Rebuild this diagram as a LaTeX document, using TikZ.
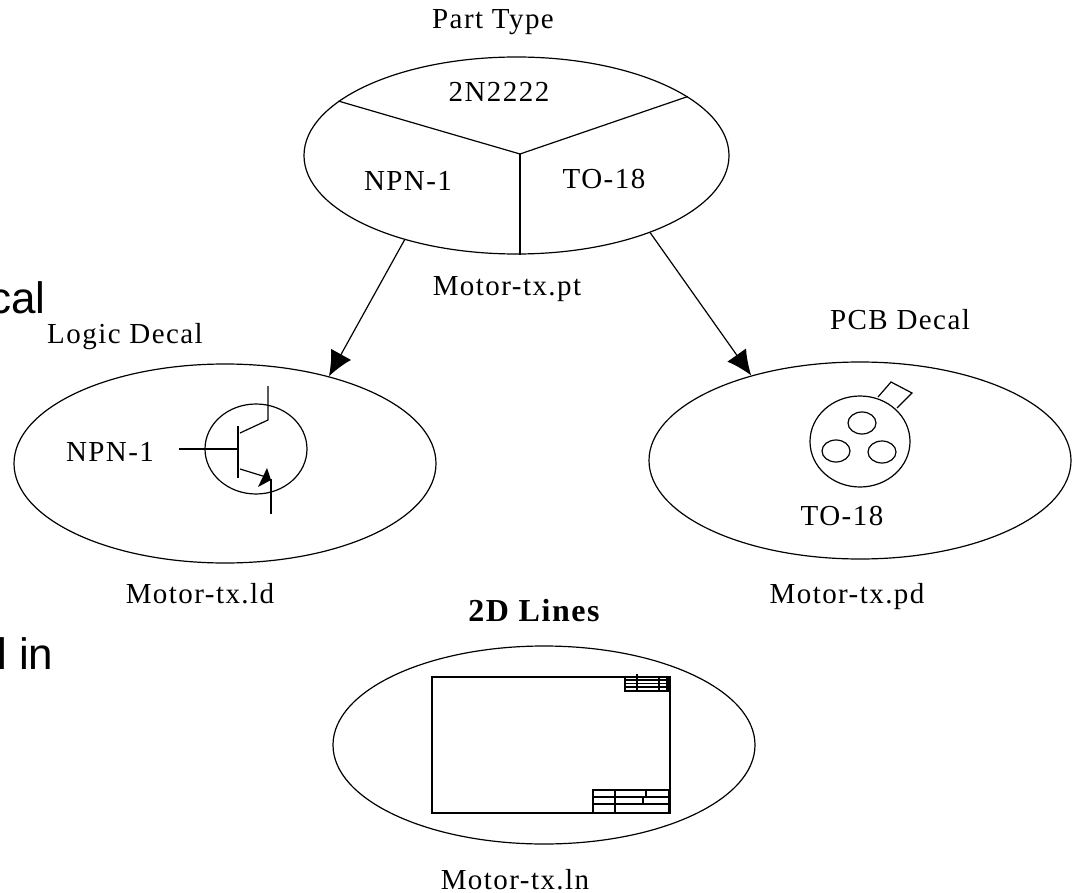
\documentclass[tikz,border=0pt]{standalone}
\usepackage{fontspec}
\setmainfont{Liberation Serif}
\newfontfamily\labelfont[LetterSpace=5]{Liberation Serif}
\newfontfamily\slidefont{Liberation Sans}
\usetikzlibrary{shapes.geometric,arrows.meta}
\tikzset{
  bubble/.style={draw, ellipse, inner sep=0pt},
  caption/.style={inner sep=0pt, anchor=base, font=\fontsize{29}{32}\labelfont},
  slidetext/.style={inner sep=0pt, anchor=base east, font=\fontsize{44}{50}\slidefont},
  bigarrow/.style={-{Latex[length=25pt, width=23pt]}},
}
\begin{document}
\begin{tikzpicture}[x=1pt, y=-1pt, line width=1.2pt]
\useasboundingbox (0,0) rectangle (1073,893);
% slide text behind the figure
\node[slidetext] (slidecal) at (46,313) {cal};
\node[slidetext] (slidein) at (54,669) {l in};
% part type
\node[bubble, minimum width=425, minimum height=197] (parttype) at (516.5,155.5) {};
\coordinate (hub) at (520,154);
\draw (hub) -- (parttype.163.2);
\draw (hub) -- (parttype.19.4);
\draw[line width=1.5pt] (hub) -- (hub |- parttype.south);
\node[caption] (ptlabel) at (493,29) {Part Type};
\node[caption] (ptname) at (499,102) {2N2222};
\node[caption] (ptlogic) at (408,191) {NPN-1};
\node[caption] (ptpcb) at (604,189) {TO-18};
\node[caption] (ptfile) at (507,295) {Motor-tx.pt};
% logic decal
\node[bubble, minimum width=422, minimum height=199] (logicdecal) at (225,463.5) {};
\node[caption] (ldlabel) at (125,343) {Logic Decal};
\node[caption] (ldname) at (110,461) {NPN-1};
\node[caption] (ldfile) at (200,603) {Motor-tx.ld};
\draw (256,449) ellipse [x radius=51, y radius=45];
\draw (179,449) -- (238,449);
\draw (238,426) -- (238,478);
\draw (240,433) -- (268,420) -- (268,386);
\draw (240,469) -- (266,477);
\draw (271,479) -- (271,514);
\fill (267,468) -- (271,480) -- (258,487) -- cycle;
% pcb decal
\node[bubble, minimum width=422, minimum height=197] (pcbdecal) at (860,460.5) {};
\node[caption] (pdlabel) at (900,329) {PCB Decal};
\node[caption] (pdname) at (842,525) {TO-18};
\node[caption] (pdfile) at (847,603) {Motor-tx.pd};
\draw (860,441.5) ellipse [x radius=50, y radius=45.5];
\foreach \cx/\cy in {862/423, 836/451, 882/452}
  \draw (\cx,\cy) ellipse [x radius=14, y radius=11];
\draw (878,397) -- (891,382) -- (912,393) -- (897,408);
% 2d lines
\node[bubble, minimum width=422, minimum height=198] (lines2d) at (544,745) {};
\node[caption, font=\fontsize{32}{35}\labelfont\bfseries] (lnlabel) at (534,621) {2D Lines};
\node[caption] (lnfile) at (515,889) {Motor-tx.ln};
\draw[line width=1.5pt] (432,677) rectangle (670,813);
\draw (625,677) rectangle (670,691);
\foreach \ly in {680,683.5,687}
  \draw (625,\ly) -- (670,\ly);
\foreach \lx in {659,667}
  \draw (\lx,677) -- (\lx,691);
\draw (637,674) -- (637,691);
\draw[line width=2.5pt] (669,677) -- (669,691);
\draw[line width=1.5pt] (593,790) rectangle (670,813);
\foreach \ly in {797,804}
  \draw (593,\ly) -- (670,\ly);
\draw[line width=1.5pt] (615,790) -- (615,813);
\draw (646,790) -- (646,797);
\draw (643,797) -- (643,804);
\draw[line width=2.5pt] (669,790) -- (669,813);
% links
\draw[bigarrow] (parttype.217.9) -- (logicdecal.40.9);
\draw[bigarrow] (parttype.-30.7) -- (pcbdecal.142.4);
\end{tikzpicture}
\end{document}
